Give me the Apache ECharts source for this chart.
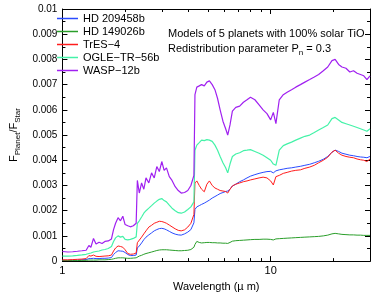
<!DOCTYPE html>
<html>
<head>
<meta charset="utf-8">
<script src="https://cdn.jsdelivr.net/npm/echarts@6/dist/echarts.min.js"></script>
<style>html,body{margin:0;padding:0;background:#fff}#c{width:374px;height:297px}</style>
</head>
<body>
<div id="c"></div>
<script>
// Wavelength grid (micron)
const wavelength = [1.00,1.06,1.12,1.18,1.24,1.30,1.34,1.37,1.41,1.45,1.50,1.55,1.60,1.66,1.72,1.76,1.80,1.85,1.90,1.95,
2.00,2.06,2.12,2.19,2.26,2.29,2.34,2.40,2.46,2.52,2.60,2.68,2.76,2.84,2.92,3.00,3.08,3.16,3.26,3.36,
3.48,3.60,3.72,3.86,4.00,4.14,4.28,4.33,4.42,4.54,4.66,4.80,4.94,5.08,5.24,5.40,5.56,5.72,5.90,6.08,
6.22,6.38,6.55,6.80,7.10,7.40,7.70,8.00,8.40,8.80,9.20,9.60,10.0,10.3,10.6,11.0,11.5,12.0,12.6,13.2,
13.9,14.6,15.4,16.2,17.0,17.9,18.8,19.7,20.4,21.2,22.0,23.0,24.0,25.0,26.0,27.0,28.0,29.0,30.0];

const hd209458b = [0.00003,0.00003,0.00004,0.00004,0.00005,0.00006,0.00010,0.00010,0.00011,0.00010,0.00010,0.00011,0.00011,0.00012,0.00014,0.00026,0.00034,0.00041,0.00040,0.00039,
0.00034,0.00026,0.00022,0.00022,0.00024,0.00052,0.00060,0.00072,0.00085,0.00095,0.00104,0.00112,0.00120,0.00125,0.00129,0.00130,0.00128,0.00124,0.00118,0.00112,
0.00107,0.00104,0.00103,0.00108,0.00115,0.00125,0.00152,0.00205,0.00215,0.00220,0.00225,0.00230,0.00236,0.00242,0.00250,0.00256,0.00262,0.00268,0.00272,0.00276,
0.00278,0.00285,0.00298,0.00305,0.00315,0.00322,0.00330,0.00337,0.00343,0.00348,0.00352,0.00355,0.00356,0.00350,0.00358,0.00362,0.00365,0.00368,0.00370,0.00373,
0.00376,0.00380,0.00384,0.00390,0.00396,0.00404,0.00415,0.00432,0.00440,0.00435,0.00428,0.00424,0.00420,0.00418,0.00415,0.00413,0.00412,0.00410,0.00415];

const hd149026b = [0.00002,0.00002,0.00002,0.00002,0.00003,0.00003,0.00004,0.00004,0.00004,0.00004,0.00005,0.00005,0.00005,0.00006,0.00007,0.00009,0.00011,0.00013,0.00013,0.00013,
0.00012,0.00011,0.00011,0.00012,0.00013,0.00018,0.00020,0.00023,0.00027,0.00030,0.00033,0.00036,0.00039,0.00042,0.00044,0.00045,0.00045,0.00045,0.00044,0.00043,
0.00042,0.00041,0.00041,0.00042,0.00043,0.00046,0.00055,0.00066,0.00078,0.00074,0.00072,0.00073,0.00074,0.00074,0.00073,0.00073,0.00072,0.00072,0.00071,0.00071,
0.00070,0.00074,0.00079,0.00081,0.00082,0.00083,0.00084,0.00085,0.00086,0.00086,0.00087,0.00087,0.00086,0.00084,0.00088,0.00089,0.00090,0.00091,0.00092,0.00093,
0.00094,0.00095,0.00096,0.00097,0.00098,0.00100,0.00103,0.00108,0.00110,0.00108,0.00106,0.00105,0.00104,0.00104,0.00103,0.00103,0.00102,0.00102,0.00102];

const tres4 = [0.00005,0.00005,0.00006,0.00007,0.00008,0.00010,0.00022,0.00020,0.00024,0.00019,0.00018,0.00019,0.00020,0.00021,0.00024,0.00040,0.00052,0.00060,0.00058,0.00055,
0.00045,0.00030,0.00027,0.00028,0.00032,0.00073,0.00080,0.00095,0.00108,0.00120,0.00135,0.00142,0.00150,0.00154,0.00158,0.00157,0.00154,0.00150,0.00143,0.00136,
0.00128,0.00122,0.00120,0.00124,0.00135,0.00150,0.00185,0.00310,0.00318,0.00300,0.00285,0.00275,0.00305,0.00318,0.00300,0.00290,0.00285,0.00280,0.00278,0.00276,
0.00270,0.00285,0.00298,0.00305,0.00310,0.00315,0.00318,0.00322,0.00326,0.00330,0.00333,0.00330,0.00318,0.00302,0.00335,0.00340,0.00348,0.00352,0.00357,0.00360,
0.00362,0.00368,0.00373,0.00380,0.00390,0.00400,0.00412,0.00432,0.00440,0.00428,0.00420,0.00415,0.00412,0.00410,0.00405,0.00402,0.00400,0.00395,0.00405];

const ogleTr56b = [0.00020,0.00020,0.00021,0.00023,0.00025,0.00027,0.00030,0.00032,0.00036,0.00038,0.00040,0.00044,0.00046,0.00050,0.00058,0.00078,0.00092,0.00100,0.00095,0.00098,
0.00086,0.00084,0.00086,0.00090,0.00096,0.00150,0.00160,0.00175,0.00190,0.00200,0.00210,0.00220,0.00230,0.00238,0.00245,0.00248,0.00240,0.00235,0.00222,0.00210,
0.00200,0.00192,0.00190,0.00195,0.00205,0.00215,0.00235,0.00440,0.00460,0.00470,0.00480,0.00478,0.00482,0.00480,0.00475,0.00460,0.00440,0.00415,0.00390,0.00370,
0.00350,0.00385,0.00415,0.00425,0.00430,0.00438,0.00440,0.00442,0.00435,0.00428,0.00420,0.00410,0.00400,0.00385,0.00380,0.00440,0.00458,0.00465,0.00472,0.00480,
0.00488,0.00495,0.00500,0.00510,0.00520,0.00530,0.00540,0.00565,0.00570,0.00560,0.00550,0.00545,0.00540,0.00535,0.00530,0.00525,0.00520,0.00515,0.00525];

const wasp12b = [0.00038,0.00036,0.00037,0.00039,0.00041,0.00043,0.00062,0.00055,0.00090,0.00068,0.00075,0.00070,0.00078,0.00080,0.00088,0.00125,0.00150,0.00172,0.00160,0.00178,
0.00145,0.00140,0.00136,0.00140,0.00150,0.00320,0.00270,0.00310,0.00285,0.00330,0.00310,0.00350,0.00330,0.00375,0.00355,0.00395,0.00360,0.00370,0.00335,0.00320,
0.00295,0.00280,0.00270,0.00272,0.00280,0.00300,0.00340,0.00660,0.00690,0.00695,0.00700,0.00695,0.00710,0.00715,0.00700,0.00680,0.00645,0.00600,0.00555,0.00525,
0.00500,0.00540,0.00595,0.00610,0.00615,0.00630,0.00640,0.00650,0.00640,0.00620,0.00600,0.00585,0.00560,0.00590,0.00545,0.00640,0.00660,0.00670,0.00680,0.00690,
0.00700,0.00710,0.00720,0.00730,0.00740,0.00755,0.00770,0.00795,0.00800,0.00780,0.00770,0.00765,0.00750,0.00755,0.00745,0.00740,0.00735,0.00720,0.00735];

const seriesNames = ['HD 209458b','HD 149026b','TrES\u22124','OGLE\u2212TR\u221256b','WASP\u221212b'];
const seriesValues = [hd209458b, hd149026b, tres4, ogleTr56b, wasp12b];
const seriesColors = ['#2a4bff','#2a9e2a','#ff1c1c','#44f2a8','#a020f0'];

const xMajorTicks = [1, 10];
const xMinorTicks = [2,3,4,5,6,7,8,9,20,30];
const yTickStep = 0.001;

const FONT = 'Liberation Sans, Arial, Helvetica, sans-serif';
const chart = echarts.init(document.getElementById('c'), null, {renderer: 'canvas'});

function xAx(pos, ticks, len, labels) {
  return {
    type: 'log', logBase: 10, min: 1, max: 30, position: pos,
    axisLine: {show: true, lineStyle: {color: '#000', width: 1}},
    axisTick: {show: true, inside: true, length: len, customValues: ticks, lineStyle: {color: '#000'}},
    axisLabel: labels ? {show: true, customValues: xMajorTicks, color: '#000', fontSize: 11, fontFamily: FONT, margin: 4} : {show: false},
    splitLine: {show: false}, minorTick: {show: false}
  };
}

const xAxes = [xAx('bottom', xMajorTicks, 5, true), xAx('bottom', xMinorTicks, 3, false),
               xAx('top', xMajorTicks, 5, false), xAx('top', xMinorTicks, 3, false)];
xAxes[0].name = 'Wavelength (\u00b5 m)';
xAxes[0].nameLocation = 'middle';
xAxes[0].nameGap = 14;
xAxes[0].nameTextStyle = {color: '#000', fontSize: 11, fontFamily: FONT};

function yAx(pos, labels) {
  return {
    type: 'value', min: 0, max: 0.01, interval: yTickStep, position: pos,
    axisLine: {show: true, lineStyle: {color: '#000', width: 1}},
    axisTick: {show: true, inside: true, length: 5, lineStyle: {color: '#000'}},
    minorTick: {show: true, splitNumber: 2, length: 3, lineStyle: {color: '#000'}},
    axisLabel: labels ? {show: true, color: '#000', fontSize: 10, fontFamily: FONT, margin: 5} : {show: false},
    splitLine: {show: false}
  };
}
const yAxes = [yAx('left', true), yAx('right', false)];
yAxes[0].name = '{m|F}{s|Planet}{m|/F}{s|Star}';
yAxes[0].nameLocation = 'middle';
yAxes[0].nameRotate = 90;
yAxes[0].nameGap = 34;
yAxes[0].nameTextStyle = {
  color: '#000', fontFamily: FONT,
  rich: {
    m: {fontSize: 11, lineHeight: 16, fontFamily: FONT, color: '#000'},
    s: {fontSize: 8, lineHeight: 9, verticalAlign: 'bottom', fontFamily: FONT, color: '#000'}
  }
};

const series = seriesNames.map((n, k) => ({
  name: n, type: 'line', xAxisIndex: 0, yAxisIndex: 0,
  symbol: 'none', showSymbol: false, smooth: false,
  lineStyle: {width: k >= 3 ? 1.2 : 1, color: seriesColors[k]}, itemStyle: {color: seriesColors[k]},
  data: wavelength.map((w, i) => [w, seriesValues[k][i]])
}));

chart.setOption({
  animation: false,
  backgroundColor: '#fff',
  grid: {left: 50, right: 4, top: 9, bottom: 28, containLabel: false},
  xAxis: xAxes,
  yAxis: yAxes,
  legend: {
    show: true, orient: 'vertical', left: 57, top: 12, padding: 0, itemGap: 0,
    icon: 'rect', itemWidth: 21, itemHeight: 1.5,
    textStyle: {color: '#000', fontSize: 11, fontFamily: FONT, lineHeight: 13},
    data: seriesNames
  },
  graphic: [
    {type: 'text', left: 168, top: 28, style: {text: 'Models of 5 planets with 100% solar TiO', font: '11px ' + FONT, fill: '#000'}},
    {type: 'text', left: 168, top: 43, style: {
      text: '{m|Redistribution parameter P}{s|n}{m| = 0.3}',
      rich: {
        m: {fontSize: 11, lineHeight: 16, fontFamily: FONT, fill: '#000'},
        s: {fontSize: 8, lineHeight: 9, verticalAlign: 'bottom', fontFamily: FONT, fill: '#000'}
      }
    }}
  ],
  series: series
});
</script>
</body>
</html>
